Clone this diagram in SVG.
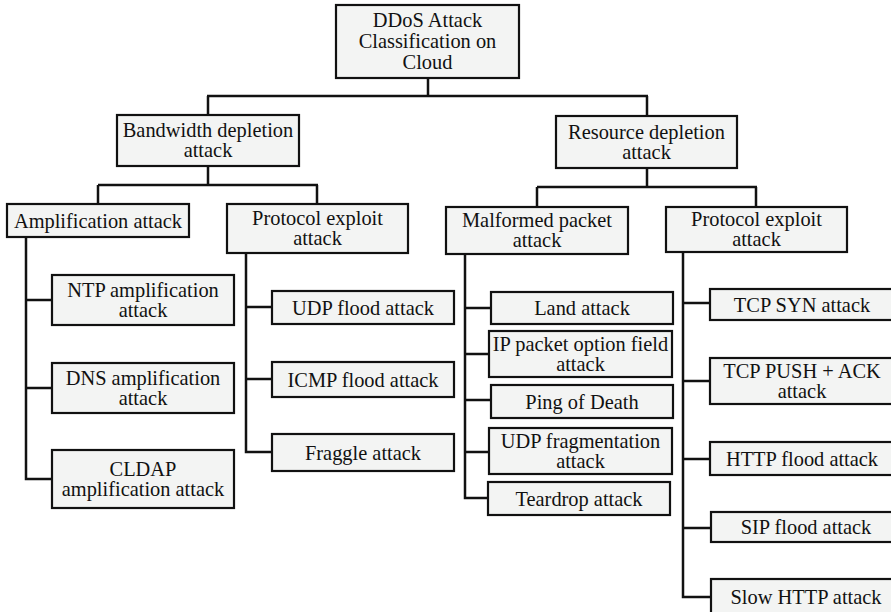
<svg xmlns="http://www.w3.org/2000/svg" width="891" height="612" viewBox="0 0 891 612">
<style>
rect{fill:#f3f4f3;stroke:#111;stroke-width:2.2}
text{font-family:"Liberation Serif","Times New Roman",serif;font-size:20.4px;fill:#111;text-anchor:middle}
#connectors path{fill:none;stroke:#111;stroke-width:2.5;stroke-linejoin:miter}
</style>
<rect x="0" y="0" width="891" height="612" style="fill:#fff;stroke:none"/>
<g id="connectors">
<path d="M428,78V96M207,96H648M208,96V115M647,96V116"/>
<path d="M208,166V185M98,185H318M98,185V204M317,185V204"/>
<path d="M647,168V187M537,187H757M537,187V207M756,187V207"/>
<path d="M26,237V479H52M26,300H52M26,388H52"/>
<path d="M246,253V452H272M246,307H272M246,379H272"/>
<path d="M465,254V498H488M465,308H491M465,354H489M465,400H491M465,452H489"/>
<path d="M683,252V597H711M683,303H710M683,381H710M683,459H710M683,528H711"/>
</g>
<g id="root"><rect x="336" y="5" width="183" height="73"/><text x="427.5" y="27">DDoS Attack</text><text x="427.5" y="48">Classification on</text><text x="427.5" y="69">Cloud</text></g>
<g id="bandwidth"><rect x="117" y="115" width="182" height="51"/><text x="208" y="137">Bandwidth depletion</text><text x="208" y="157">attack</text></g>
<g id="resource"><rect x="556" y="116" width="181" height="52"/><text x="646.5" y="138.5">Resource depletion</text><text x="646.5" y="158.5">attack</text></g>
<g id="amplification"><rect x="7" y="204" width="182" height="33"/><text x="98" y="227.5">Amplification attack</text></g>
<g id="protocol1"><rect x="227" y="204" width="181" height="49"/><text x="317.5" y="225">Protocol exploit</text><text x="317.5" y="245">attack</text></g>
<g id="malformed"><rect x="446" y="207" width="182" height="47"/><text x="537" y="227">Malformed packet</text><text x="537" y="247">attack</text></g>
<g id="protocol2"><rect x="666" y="207" width="181" height="45"/><text x="756.5" y="226">Protocol exploit</text><text x="756.5" y="246">attack</text></g>
<g id="ntp"><rect x="52" y="275" width="182" height="50"/><text x="143" y="296.5">NTP amplification</text><text x="143" y="316.5">attack</text></g>
<g id="dns"><rect x="52" y="363" width="182" height="50"/><text x="143" y="384.5">DNS amplification</text><text x="143" y="404.5">attack</text></g>
<g id="cldap"><rect x="52" y="450" width="182" height="58"/><text x="143" y="475.5">CLDAP</text><text x="143" y="495.5">amplification attack</text></g>
<g id="udpflood"><rect x="272" y="291" width="182" height="33"/><text x="363" y="314.5">UDP flood attack</text></g>
<g id="icmpflood"><rect x="272" y="362" width="182" height="35"/><text x="363" y="386.5">ICMP flood attack</text></g>
<g id="fraggle"><rect x="272" y="434" width="182" height="37"/><text x="363" y="459.5">Fraggle attack</text></g>
<g id="land"><rect x="491" y="292" width="182" height="32"/><text x="582" y="315">Land attack</text></g>
<g id="ipoption"><rect x="489" y="331" width="183" height="46"/><text x="580.5" y="350.5">IP packet option field</text><text x="580.5" y="370.5">attack</text></g>
<g id="pingofdeath"><rect x="491" y="385" width="182" height="33"/><text x="582" y="408.5">Ping of Death</text></g>
<g id="udpfrag"><rect x="489" y="428" width="183" height="46"/><text x="580.5" y="447.5">UDP fragmentation</text><text x="580.5" y="467.5">attack</text></g>
<g id="teardrop"><rect x="488" y="482" width="182" height="33"/><text x="579" y="505.5">Teardrop attack</text></g>
<g id="tcpsyn"><rect x="710" y="289" width="190" height="31"/><text x="802" y="311.5">TCP SYN attack</text></g>
<g id="tcppush"><rect x="710" y="358" width="190" height="46"/><text x="802" y="377.5">TCP PUSH + ACK</text><text x="802" y="397.5">attack</text></g>
<g id="httpflood"><rect x="710" y="442" width="190" height="33"/><text x="802" y="465.5">HTTP flood attack</text></g>
<g id="sipflood"><rect x="711" y="512" width="190" height="30"/><text x="806" y="534">SIP flood attack</text></g>
<g id="slowhttp"><rect x="711" y="579" width="190" height="45"/><text x="806" y="604">Slow HTTP attack</text></g>
</svg>
